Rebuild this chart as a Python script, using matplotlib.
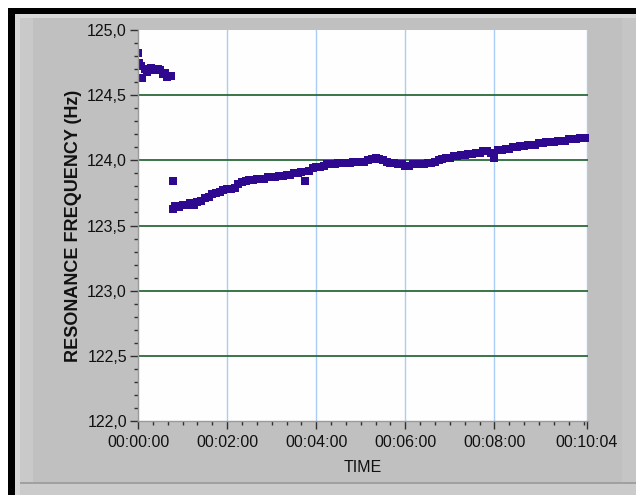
import matplotlib.pyplot as plt
from matplotlib.patches import Rectangle
from matplotlib.ticker import FixedLocator, MultipleLocator, FuncFormatter

# --- measured resonance frequency vs elapsed time (s) ---
time_s = [0, 2, 4, 6, 9, 12, 15, 18, 21, 24, 27, 30, 33, 36, 39, 42, 45,
          47,
          47, 50, 55, 60, 65, 70, 75, 80, 85, 90, 95, 100, 105, 110, 115,
          120, 125, 130, 135, 140, 145, 150, 155, 160, 165, 170, 175, 180,
          185, 190, 195, 200, 205, 210, 215, 220, 225, 230, 235, 240, 245,
          250, 255, 260, 265, 270, 275, 280, 285, 290, 295, 300, 305, 310,
          315, 320, 325, 330, 335, 340, 345, 350, 355, 360, 365, 370, 375,
          380, 385, 390, 395, 400, 405, 410, 415, 420, 425, 430, 435, 440,
          445, 450, 455, 460, 465, 470, 475, 480, 485, 490, 495, 500, 505,
          510, 515, 520, 525, 530, 535, 540, 545, 550, 555, 560, 565, 570,
          575, 580, 585, 590, 595, 600, 604]
freq_hz = [124.82, 124.75, 124.72, 124.63, 124.70, 124.68, 124.70, 124.71,
           124.69, 124.70, 124.70, 124.69, 124.66, 124.67, 124.64, 124.65,
           124.65,
           123.84,
           123.63, 123.65, 123.64, 123.66, 123.66, 123.67, 123.66, 123.68,
           123.69, 123.71, 123.72, 123.74, 123.75, 123.76, 123.77, 123.78,
           123.78, 123.79, 123.82, 123.83, 123.84, 123.85, 123.85, 123.86,
           123.86, 123.86, 123.87, 123.87, 123.87, 123.88, 123.88, 123.89,
           123.89, 123.90, 123.90, 123.91, 123.84, 123.92, 123.94, 123.95,
           123.95, 123.96, 123.97, 123.97, 123.97, 123.98, 123.98, 123.98,
           123.98, 123.99, 123.99, 123.99, 123.99, 124.00, 124.01, 124.02,
           124.01, 124.00, 123.99, 123.98, 123.98, 123.97, 123.97, 123.96,
           123.96, 123.97, 123.97, 123.97, 123.97, 123.98, 123.98, 123.99,
           124.00, 124.01, 124.02, 124.02, 124.03, 124.03, 124.04, 124.04,
           124.05, 124.05, 124.06, 124.06, 124.07, 124.07, 124.06, 124.02,
           124.08, 124.08, 124.09, 124.09, 124.10, 124.10, 124.11, 124.11,
           124.12, 124.12, 124.12, 124.13, 124.13, 124.14, 124.14, 124.14,
           124.15, 124.15, 124.15, 124.16, 124.16, 124.16, 124.17, 124.17,
           124.17]

x_major = [0, 120, 240, 360, 480, 604]
x_minor = [20, 40, 60, 80, 100, 140, 160, 180, 200, 220, 260, 280, 300, 320,
           340, 380, 400, 420, 440, 460, 500, 520, 540, 560, 580, 600]
y_major = [122.0, 122.5, 123.0, 123.5, 124.0, 124.5, 125.0]

W, H = 636, 495
FONT = 'Liberation Sans'

fig = plt.figure(figsize=(W / 100, H / 100), dpi=100)
fig.patch.set_facecolor('white')


def box(x0, y0, x1, y1, color):
    # rectangle given in pixels from the top-left corner
    fig.add_artist(Rectangle((x0 / W, 1 - y1 / H), (x1 - x0) / W, (y1 - y0) / H,
                             transform=fig.transFigure, facecolor=color,
                             edgecolor='none', zorder=-5))


# panel frame
box(8, 8, W, H, 'black')
box(15, 14, W, H, '#cbcbcb')
box(15, 14, W, 18, '#d8d8d8')
box(15, 14, 20, H, '#d8d8d8')
box(20, 18, 33, 483, '#c9c9c9')
box(33, 18, 622, 483, '#c0c0c0')
box(622, 18, W, 483, '#c5c5c5')
box(20, 482, W, 484, '#a0a0a0')

ax = fig.add_axes([138 / W, 1 - 421 / H, 450 / W, 391 / H])
ax.set_facecolor('#fefefe')

ax.plot(time_s, freq_hz, ls='none', marker='s', markersize=5.3,
        color='#2f0890', markeredgewidth=0)

ax.set_xlim(0, 606)
ax.set_ylim(122.0, 125.0)

ax.xaxis.set_major_locator(FixedLocator(x_major))
ax.xaxis.set_minor_locator(FixedLocator(x_minor))
ax.xaxis.set_major_formatter(FuncFormatter(
    lambda v, p: '%02d:%02d:%02d' % (v // 3600, (v % 3600) // 60, v % 60)))
ax.yaxis.set_major_locator(FixedLocator(y_major))
ax.yaxis.set_minor_locator(MultipleLocator(0.1))
ax.yaxis.set_major_formatter(FuncFormatter(lambda v, p: ('%.1f' % v).replace('.', ',')))

ax.tick_params(which='major', direction='out', length=6, width=1, color='#303030',
               labelsize=11.5, labelcolor='#111111')
ax.tick_params(which='minor', direction='out', length=3, width=1, color='#303030')
ax.tick_params(axis='x', which='major', pad=4)
ax.tick_params(axis='y', which='major', pad=2)
for lab in ax.get_xticklabels() + ax.get_yticklabels():
    lab.set_family(FONT)

# grid: dark green horizontals, light blue verticals
ax.grid(True, axis='y', which='major', color='#2c6a3a', lw=1.3)
ax.grid(True, axis='x', which='major', color='#a9cdf7', lw=1.0)
ax.set_axisbelow(True)
fig.canvas.draw()
for gl in (ax.get_ygridlines()[0], ax.get_ygridlines()[-1], ax.get_xgridlines()[0]):
    gl.set_visible(False)

for side in ('top', 'right'):
    ax.spines[side].set_visible(False)
for side in ('left', 'bottom'):
    ax.spines[side].set_color('#9a9a9a')
    ax.spines[side].set_linewidth(1)

ax.set_ylabel('RESONANCE FREQUENCY (Hz)', family=FONT, fontsize=13,
              fontweight='bold', color='#111111', va='center')
ax.yaxis.set_label_coords(-0.143, 0.5)
ax.set_xlabel('TIME', family=FONT, fontsize=11.5, color='#111111', va='center')
ax.xaxis.set_label_coords(0.5, -47 / 391)

fig.savefig('out.png', dpi=100)
